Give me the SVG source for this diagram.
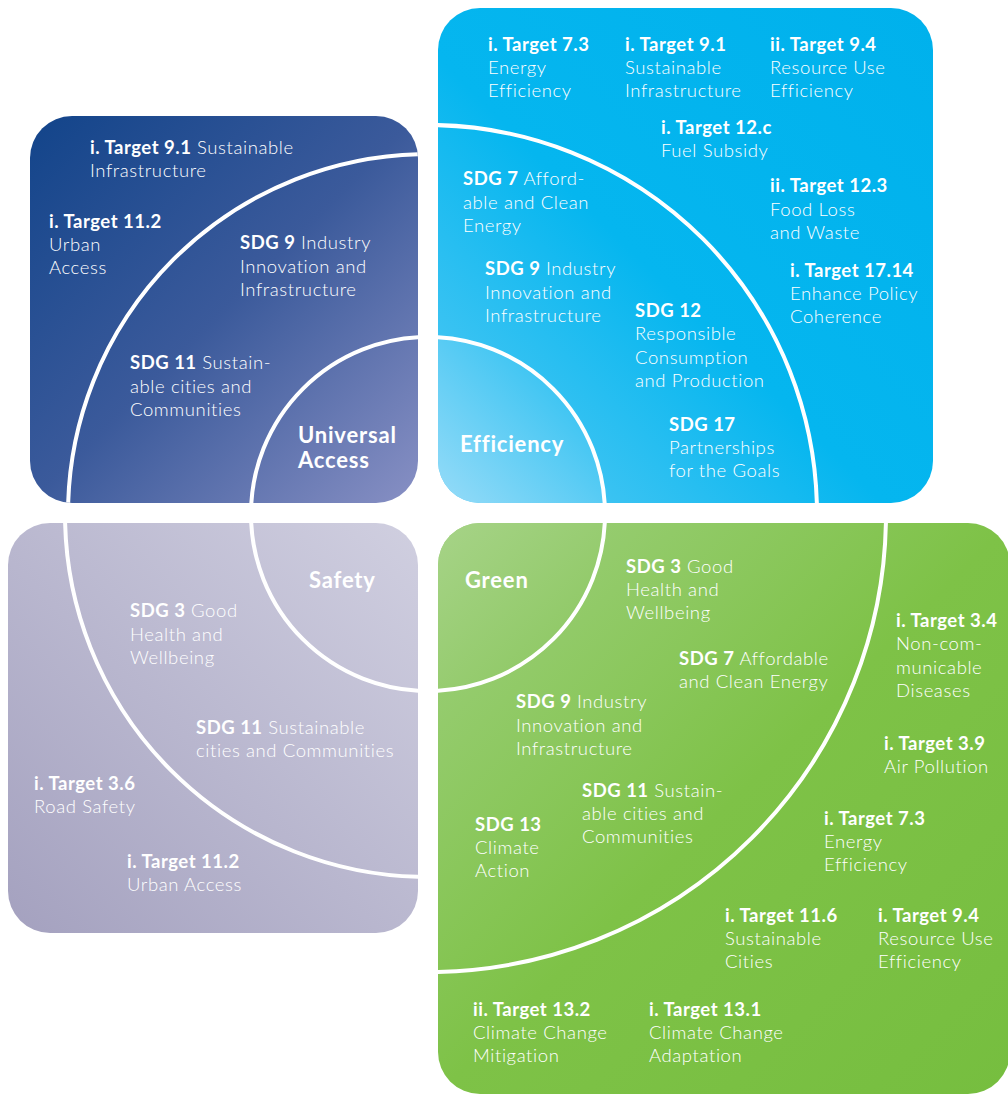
<svg xmlns="http://www.w3.org/2000/svg" width="1008" height="1094" viewBox="0 0 1008 1094">
<style>
text{font-family:Lato,"Noto Sans","Liberation Sans",sans-serif;font-size:18.5px;font-weight:300;letter-spacing:0.6px;fill:#fff}
.b{font-weight:700;letter-spacing:0.5px}
.big{font-size:22px;font-weight:700;letter-spacing:0.8px}
.arc{fill:none;stroke:#fff;stroke-width:4}
</style>
<defs>
<linearGradient id="gTL" x1="0" y1="0" x2="1" y2="1"><stop offset="0" stop-color="#12448a"/><stop offset="0.5" stop-color="#3b5a9b"/><stop offset="1" stop-color="#8890c4"/></linearGradient>
<linearGradient id="gTR" x1="0" y1="1" x2="1" y2="0"><stop offset="0" stop-color="#5ccbf4"/><stop offset="0.45" stop-color="#05b6ef"/><stop offset="1" stop-color="#00b1ec"/></linearGradient>
<linearGradient id="gTRin" gradientUnits="userSpaceOnUse" x1="440" y1="500" x2="600" y2="340"><stop offset="0" stop-color="#95dbf8"/><stop offset="1" stop-color="#1cbcf0"/></linearGradient>
<linearGradient id="gBL" x1="0" y1="1" x2="1" y2="0"><stop offset="0" stop-color="#a4a1bf"/><stop offset="1" stop-color="#d0cfe0"/></linearGradient>
<linearGradient id="gG" x1="0" y1="0" x2="1" y2="1"><stop offset="0" stop-color="#9fd07f"/><stop offset="0.5" stop-color="#7ec247"/><stop offset="1" stop-color="#76be3f"/></linearGradient>
<linearGradient id="gGin" gradientUnits="userSpaceOnUse" x1="440" y1="525" x2="600" y2="690"><stop offset="0" stop-color="#a6d387"/><stop offset="1" stop-color="#89c65c"/></linearGradient>
<clipPath id="cTL"><rect x="30" y="116" width="388" height="387" rx="42"/></clipPath>
<clipPath id="cTR"><rect x="438" y="8" width="495" height="495" rx="42"/></clipPath>
<clipPath id="cBL"><rect x="8" y="523" width="410" height="410" rx="42"/></clipPath>
<clipPath id="cG"><rect x="438" y="523" width="572" height="571" rx="42"/></clipPath>
</defs>

<g id="universal-access">
<rect x="30" y="116" width="388" height="387" rx="42" fill="url(#gTL)"/>
<g clip-path="url(#cTL)">
<circle class="arc" cx="428" cy="514" r="360"/>
<circle class="arc" cx="428" cy="514" r="177"/>
</g>
<text x="90" y="154"><tspan class="b">i. Target 9.1</tspan> Sustainable<tspan x="90" dy="23">Infrastructure</tspan></text>
<text x="49" y="228"><tspan class="b">i. Target 11.2</tspan><tspan x="49" dy="23">Urban</tspan><tspan x="49" dy="23">Access</tspan></text>
<text x="240" y="249"><tspan class="b">SDG 9</tspan> Industry<tspan x="240" dy="23.5">Innovation and</tspan><tspan x="240" dy="23.5">Infrastructure</tspan></text>
<text x="130" y="369"><tspan class="b">SDG 11</tspan> Sustain-<tspan x="130" dy="23.5">able cities and</tspan><tspan x="130" dy="23.5">Communities</tspan></text>
<text class="big" x="298" y="443">Universal</text>
<text class="big" x="298" y="468">Access</text>
</g>

<g id="efficiency">
<rect x="438" y="8" width="495" height="495" rx="42" fill="url(#gTR)"/>
<g clip-path="url(#cTR)">
<circle cx="428" cy="514" r="177" fill="url(#gTRin)"/>
<circle class="arc" cx="428" cy="514" r="389"/>
<circle class="arc" cx="428" cy="514" r="177"/>
</g>
<text x="488" y="51"><tspan class="b">i. Target 7.3</tspan><tspan x="488" dy="23">Energy</tspan><tspan x="488" dy="23">Efficiency</tspan></text>
<text x="625" y="51"><tspan class="b">i. Target 9.1</tspan><tspan x="625" dy="23">Sustainable</tspan><tspan x="625" dy="23">Infrastructure</tspan></text>
<text x="770" y="51"><tspan class="b">ii. Target 9.4</tspan><tspan x="770" dy="23">Resource Use</tspan><tspan x="770" dy="23">Efficiency</tspan></text>
<text x="661" y="134"><tspan class="b">i. Target 12.c</tspan><tspan x="661" dy="23">Fuel Subsidy</tspan></text>
<text x="463" y="185"><tspan class="b">SDG 7</tspan> Afford-<tspan x="463" dy="23.5">able and Clean</tspan><tspan x="463" dy="23.5">Energy</tspan></text>
<text x="770" y="192"><tspan class="b">ii. Target 12.3</tspan><tspan x="770" dy="23.5">Food Loss</tspan><tspan x="770" dy="23.5">and Waste</tspan></text>
<text x="485" y="275"><tspan class="b">SDG 9</tspan> Industry<tspan x="485" dy="23.5">Innovation and</tspan><tspan x="485" dy="23.5">Infrastructure</tspan></text>
<text x="790" y="277"><tspan class="b">i. Target 17.14</tspan><tspan x="790" dy="23">Enhance Policy</tspan><tspan x="790" dy="23">Coherence</tspan></text>
<text x="635" y="317"><tspan class="b">SDG 12</tspan><tspan x="635" dy="23.3">Responsible</tspan><tspan x="635" dy="23.3">Consumption</tspan><tspan x="635" dy="23.3">and Production</tspan></text>
<text x="669" y="431"><tspan class="b">SDG 17</tspan><tspan x="669" dy="23">Partnerships</tspan><tspan x="669" dy="23">for the Goals</tspan></text>
<text class="big" x="460" y="452">Efficiency</text>
</g>

<g id="safety">
<rect x="8" y="523" width="410" height="410" rx="42" fill="url(#gBL)"/>
<g clip-path="url(#cBL)">
<circle class="arc" cx="428" cy="514" r="363"/>
<circle class="arc" cx="428" cy="514" r="177"/>
</g>
<text class="big" x="309" y="588">Safety</text>
<text x="130" y="617"><tspan class="b">SDG 3</tspan> Good<tspan x="130" dy="23.5">Health and</tspan><tspan x="130" dy="23.5">Wellbeing</tspan></text>
<text x="196" y="734"><tspan class="b">SDG 11</tspan> Sustainable<tspan x="196" dy="23">cities and Communities</tspan></text>
<text x="34" y="790"><tspan class="b">i. Target 3.6</tspan><tspan x="34" dy="23">Road Safety</tspan></text>
<text x="127" y="868"><tspan class="b">i. Target 11.2</tspan><tspan x="127" dy="23">Urban Access</tspan></text>
</g>

<g id="green">
<rect x="438" y="523" width="572" height="571" rx="42" fill="url(#gG)"/>
<g clip-path="url(#cG)">
<circle cx="428" cy="514" r="177" fill="url(#gGin)"/>
<circle class="arc" cx="428" cy="514" r="458"/>
<circle class="arc" cx="428" cy="514" r="177"/>
</g>
<text class="big" x="465" y="588">Green</text>
<text x="626" y="573"><tspan class="b">SDG 3</tspan> Good<tspan x="626" dy="23">Health and</tspan><tspan x="626" dy="23">Wellbeing</tspan></text>
<text x="679" y="665"><tspan class="b">SDG 7</tspan> Affordable<tspan x="679" dy="23">and Clean Energy</tspan></text>
<text x="896" y="627"><tspan class="b">i. Target 3.4</tspan><tspan x="896" dy="23.3">Non-com-</tspan><tspan x="896" dy="23.3">municable</tspan><tspan x="896" dy="23.3">Diseases</tspan></text>
<text x="516" y="708"><tspan class="b">SDG 9</tspan> Industry<tspan x="516" dy="23.5">Innovation and</tspan><tspan x="516" dy="23.5">Infrastructure</tspan></text>
<text x="884" y="750"><tspan class="b">i. Target 3.9</tspan><tspan x="884" dy="23">Air Pollution</tspan></text>
<text x="582" y="797"><tspan class="b">SDG 11</tspan> Sustain-<tspan x="582" dy="23">able cities and</tspan><tspan x="582" dy="23">Communities</tspan></text>
<text x="475" y="831"><tspan class="b">SDG 13</tspan><tspan x="475" dy="23">Climate</tspan><tspan x="475" dy="23">Action</tspan></text>
<text x="824" y="825"><tspan class="b">i. Target 7.3</tspan><tspan x="824" dy="23">Energy</tspan><tspan x="824" dy="23">Efficiency</tspan></text>
<text x="725" y="922"><tspan class="b">i. Target 11.6</tspan><tspan x="725" dy="23">Sustainable</tspan><tspan x="725" dy="23">Cities</tspan></text>
<text x="878" y="922"><tspan class="b">i. Target 9.4</tspan><tspan x="878" dy="23">Resource Use</tspan><tspan x="878" dy="23">Efficiency</tspan></text>
<text x="473" y="1016"><tspan class="b">ii. Target 13.2</tspan><tspan x="473" dy="23">Climate Change</tspan><tspan x="473" dy="23">Mitigation</tspan></text>
<text x="649" y="1016"><tspan class="b">i. Target 13.1</tspan><tspan x="649" dy="23">Climate Change</tspan><tspan x="649" dy="23">Adaptation</tspan></text>
</g>

<g id="connectors"/>
</svg>
